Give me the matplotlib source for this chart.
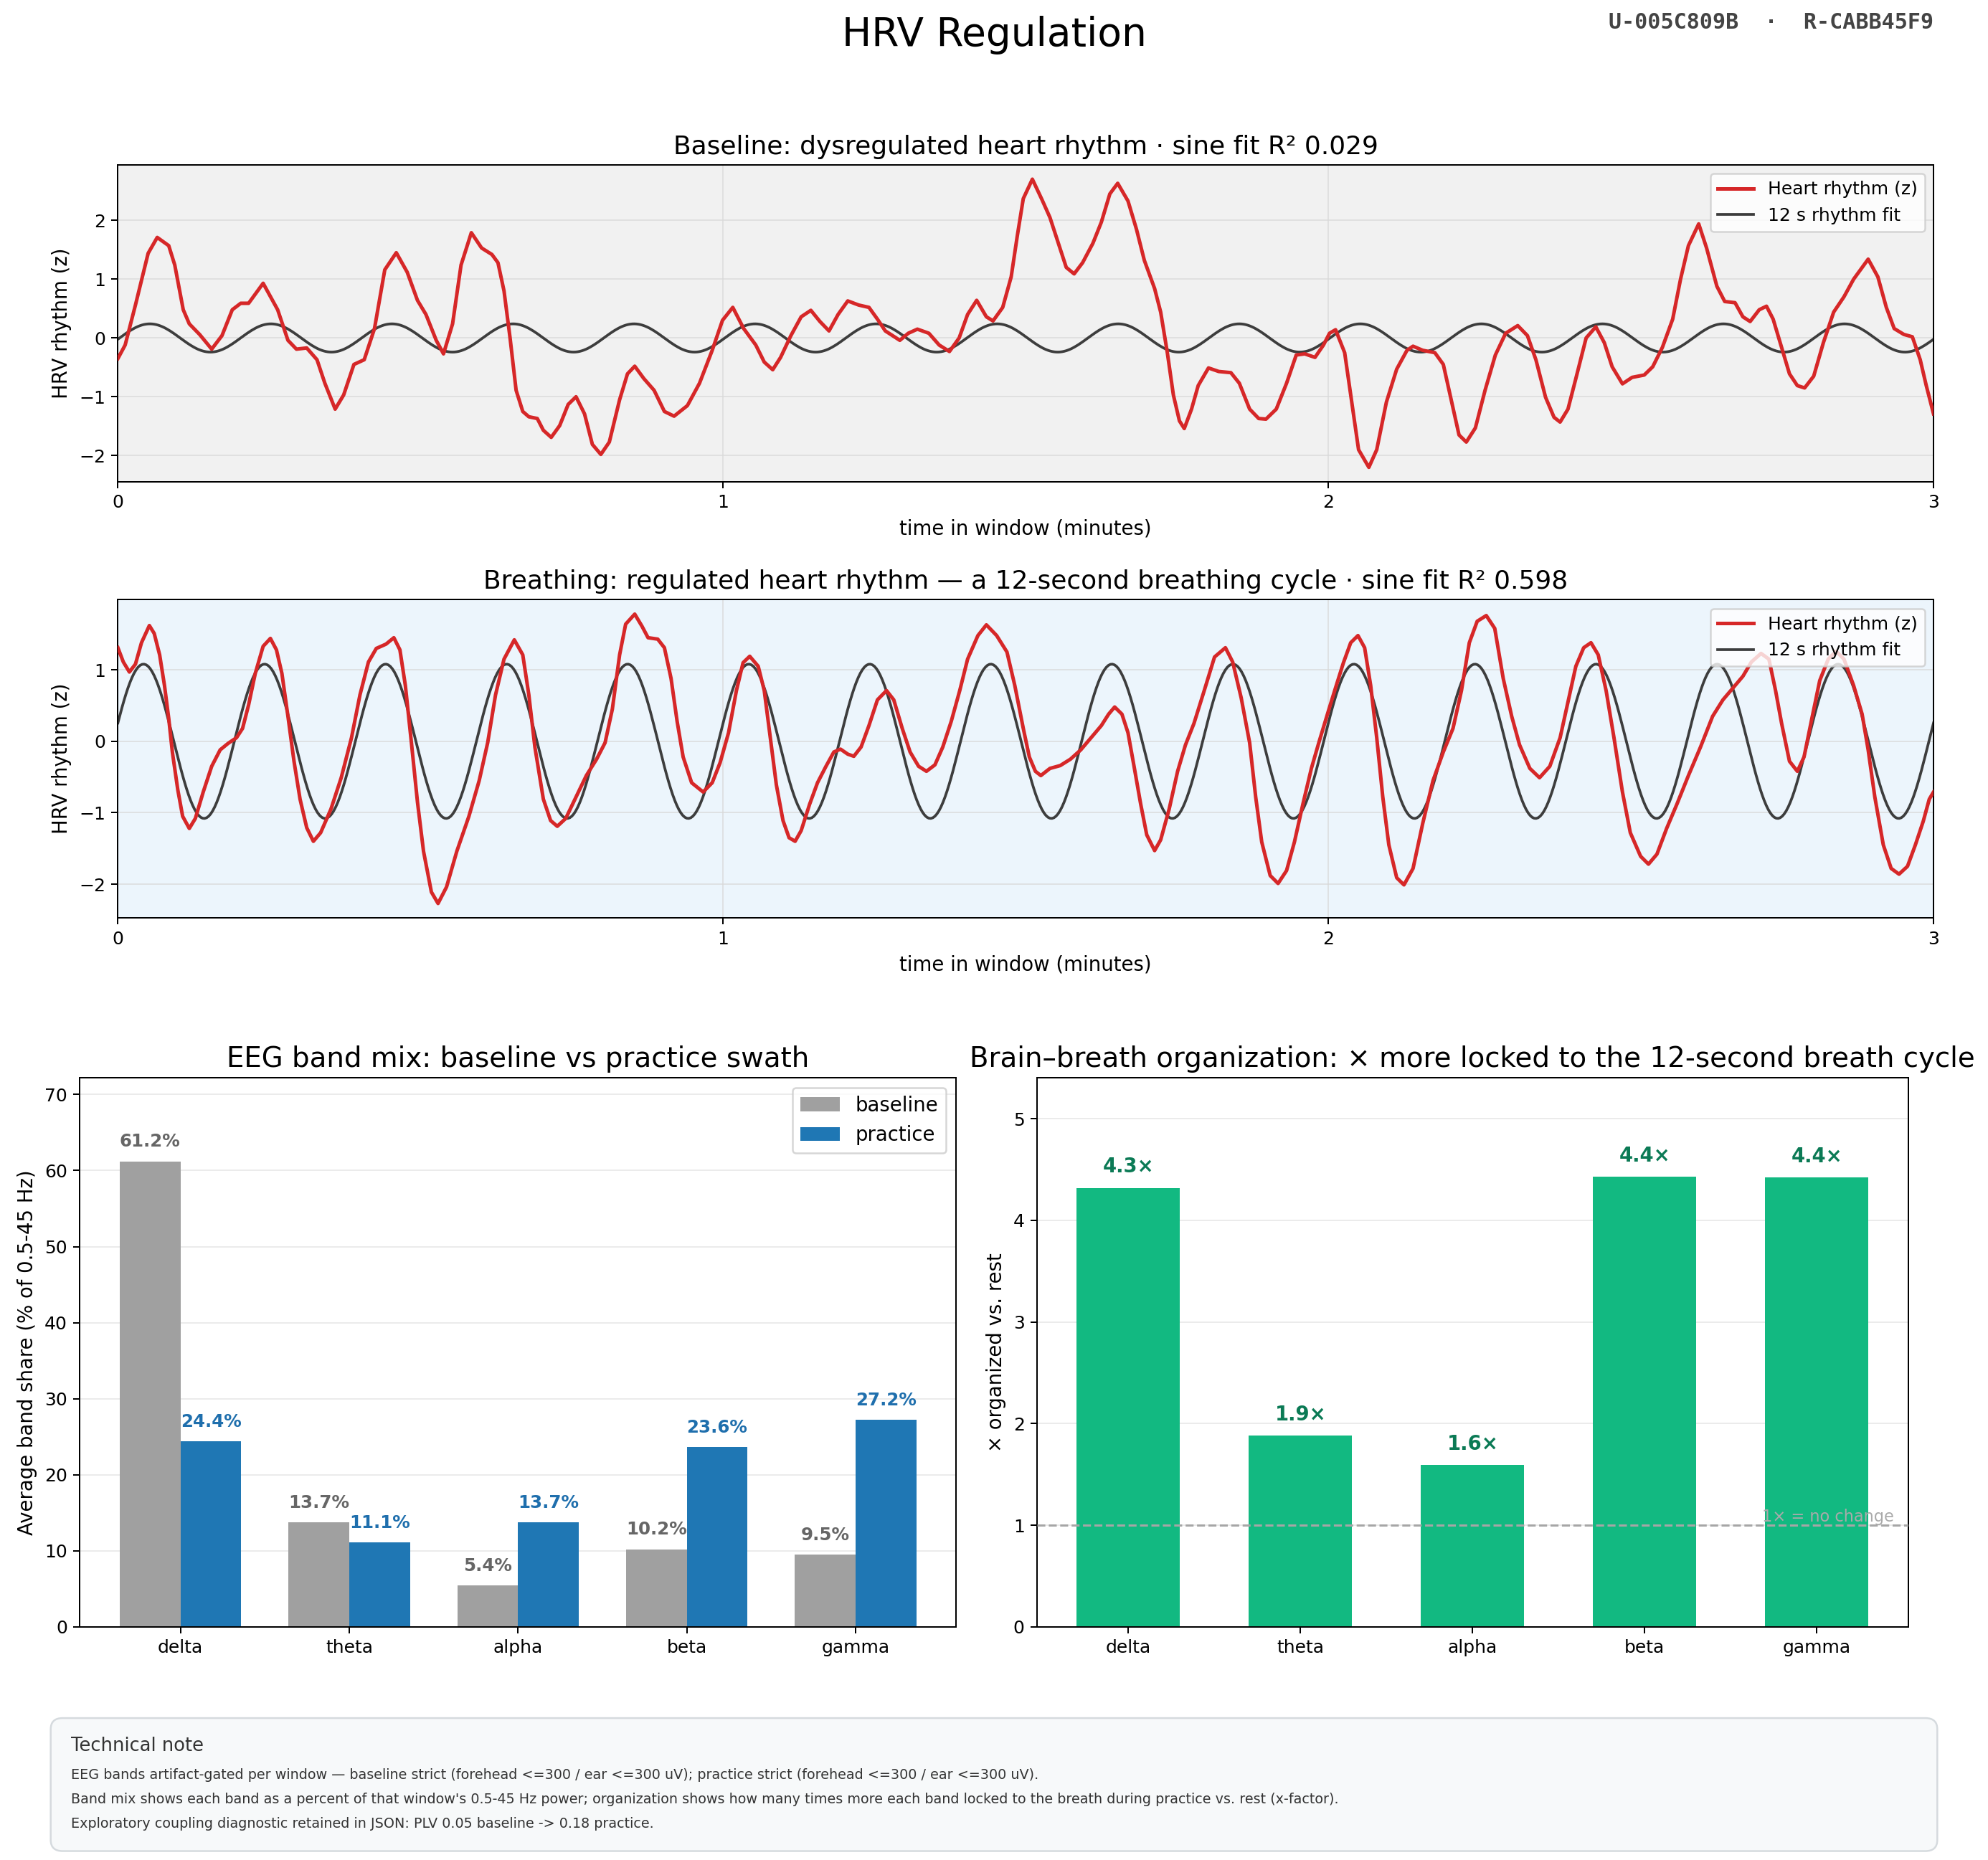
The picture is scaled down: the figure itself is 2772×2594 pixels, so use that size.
import numpy as np
import matplotlib
matplotlib.use("Agg")
import matplotlib.pyplot as plt
from matplotlib.patches import FancyBboxPatch

# ---------------- data ----------------
# baseline heart rhythm (time in minutes, z)
baseline_pts = [
    (0.0, -0.35), (0.012, -0.12), (0.029, 0.56), (0.05, 1.44), (0.065, 1.71), (0.084, 1.57),
    (0.094, 1.24), (0.108, 0.48), (0.118, 0.24), (0.135, 0.06), (0.155, -0.19), (0.172, 0.04),
    (0.189, 0.48), (0.203, 0.59), (0.216, 0.59), (0.24, 0.93), (0.264, 0.48), (0.281, -0.04),
    (0.295, -0.19), (0.312, -0.17), (0.329, -0.37), (0.342, -0.77), (0.359, -1.21), (0.373, -0.97),
    (0.39, -0.45), (0.407, -0.37), (0.424, 0.16), (0.441, 1.16), (0.46, 1.45), (0.478, 1.12),
    (0.495, 0.64), (0.509, 0.40), (0.526, -0.04), (0.538, -0.27), (0.553, 0.24), (0.567, 1.24),
    (0.584, 1.79), (0.601, 1.53), (0.618, 1.42), (0.628, 1.28), (0.638, 0.80), (0.648, 0.0),
    (0.658, -0.89), (0.669, -1.25), (0.679, -1.34), (0.693, -1.37), (0.703, -1.57), (0.716, -1.69),
    (0.73, -1.49), (0.744, -1.13), (0.757, -1.0), (0.771, -1.29), (0.784, -1.81), (0.798, -1.98),
    (0.812, -1.77), (0.829, -1.05), (0.842, -0.61), (0.854, -0.48), (0.869, -0.69), (0.886, -0.89),
    (0.903, -1.25), (0.919, -1.33), (0.941, -1.15), (0.961, -0.77), (0.982, -0.21), (0.999, 0.30),
    (1.016, 0.52), (1.034, 0.16), (1.054, -0.12), (1.068, -0.41), (1.082, -0.54), (1.095, -0.33),
    (1.112, 0.04), (1.129, 0.36), (1.145, 0.47), (1.16, 0.28), (1.175, 0.12), (1.19, 0.40),
    (1.206, 0.63), (1.224, 0.56), (1.241, 0.52), (1.255, 0.32), (1.268, 0.12), (1.292, -0.04),
    (1.306, 0.08), (1.321, 0.15), (1.34, 0.08), (1.357, -0.12), (1.374, -0.23), (1.39, 0.0),
    (1.404, 0.40), (1.419, 0.64), (1.435, 0.36), (1.446, 0.29), (1.462, 0.52), (1.476, 1.04),
    (1.486, 1.73), (1.496, 2.37), (1.511, 2.70), (1.527, 2.35), (1.54, 2.05), (1.554, 1.61),
    (1.567, 1.20), (1.58, 1.09), (1.594, 1.28), (1.611, 1.61), (1.625, 1.97), (1.639, 2.45),
    (1.652, 2.63), (1.669, 2.33), (1.683, 1.85), (1.696, 1.32), (1.713, 0.84), (1.723, 0.44),
    (1.734, -0.25), (1.744, -0.97), (1.754, -1.41), (1.762, -1.54), (1.774, -1.21), (1.785, -0.81),
    (1.802, -0.51), (1.819, -0.57), (1.839, -0.59), (1.853, -0.77), (1.87, -1.21), (1.885, -1.37),
    (1.897, -1.38), (1.914, -1.21), (1.931, -0.77), (1.947, -0.29), (1.961, -0.27), (1.978, -0.33),
    (1.992, -0.12), (2.002, 0.08), (2.012, 0.14), (2.027, -0.25), (2.037, -0.97), (2.05, -1.90),
    (2.067, -2.20), (2.08, -1.90), (2.096, -1.09), (2.113, -0.53), (2.13, -0.21), (2.14, -0.14),
    (2.156, -0.21), (2.176, -0.25), (2.19, -0.45), (2.203, -1.05), (2.216, -1.65), (2.228, -1.77),
    (2.243, -1.53), (2.259, -0.89), (2.276, -0.29), (2.293, 0.08), (2.313, 0.21), (2.329, 0.04),
    (2.343, -0.37), (2.359, -1.01), (2.373, -1.35), (2.383, -1.43), (2.396, -1.21), (2.409, -0.69),
    (2.426, 0.0), (2.442, 0.19), (2.456, -0.08), (2.469, -0.49), (2.486, -0.78), (2.502, -0.67),
    (2.522, -0.63), (2.536, -0.49), (2.552, -0.16), (2.569, 0.32), (2.582, 1.0), (2.595, 1.57),
    (2.612, 1.94), (2.625, 1.53), (2.642, 0.88), (2.655, 0.62), (2.672, 0.60), (2.685, 0.36),
    (2.697, 0.28), (2.712, 0.48), (2.724, 0.54), (2.735, 0.32), (2.749, -0.16), (2.762, -0.61),
    (2.775, -0.81), (2.787, -0.85), (2.802, -0.65), (2.818, -0.08), (2.835, 0.44), (2.852, 0.70),
    (2.868, 1.0), (2.892, 1.34), (2.908, 1.04), (2.922, 0.52), (2.935, 0.16), (2.951, 0.06),
    (2.965, 0.02), (2.978, -0.37), (2.988, -0.81), (3.0, -1.29),
]

# breathing heart rhythm (time in minutes, z)
breathing_pts = [
    (0.0, 1.31), (0.009, 1.11), (0.019, 0.97), (0.029, 1.08), (0.039, 1.38), (0.052, 1.62),
    (0.06, 1.51), (0.069, 1.21), (0.077, 0.78), (0.084, 0.32), (0.09, -0.15), (0.099, -0.68),
    (0.107, -1.05), (0.118, -1.22), (0.128, -1.08), (0.141, -0.71), (0.155, -0.35), (0.169, -0.12),
    (0.182, -0.03), (0.196, 0.05), (0.206, 0.18), (0.216, 0.51), (0.227, 0.95), (0.24, 1.33),
    (0.252, 1.44), (0.262, 1.28), (0.271, 0.95), (0.281, 0.35), (0.291, -0.28), (0.301, -0.81),
    (0.312, -1.21), (0.323, -1.40), (0.335, -1.28), (0.352, -0.95), (0.369, -0.51), (0.386, 0.05),
    (0.4, 0.65), (0.414, 1.11), (0.427, 1.30), (0.443, 1.36), (0.456, 1.45), (0.466, 1.28),
    (0.475, 0.78), (0.485, -0.02), (0.495, -0.85), (0.505, -1.54), (0.518, -2.11), (0.529, -2.27),
    (0.543, -2.04), (0.56, -1.54), (0.58, -1.05), (0.597, -0.55), (0.611, -0.02), (0.624, 0.65),
    (0.638, 1.15), (0.655, 1.42), (0.669, 1.21), (0.679, 0.65), (0.689, -0.08), (0.703, -0.81),
    (0.715, -1.11), (0.726, -1.19), (0.74, -1.08), (0.757, -0.78), (0.774, -0.48), (0.791, -0.25),
    (0.805, -0.02), (0.817, 0.45), (0.829, 1.21), (0.839, 1.64), (0.854, 1.78), (0.866, 1.61),
    (0.876, 1.45), (0.892, 1.43), (0.903, 1.31), (0.914, 0.88), (0.924, 0.28), (0.934, -0.22),
    (0.948, -0.58), (0.967, -0.71), (0.982, -0.58), (0.995, -0.30), (1.009, 0.12), (1.022, 0.71),
    (1.033, 1.10), (1.044, 1.19), (1.058, 1.05), (1.068, 0.71), (1.078, 0.05), (1.088, -0.61),
    (1.099, -1.11), (1.109, -1.35), (1.119, -1.40), (1.129, -1.25), (1.143, -0.88), (1.156, -0.58),
    (1.17, -0.35), (1.183, -0.15), (1.194, -0.11), (1.206, -0.18), (1.216, -0.21), (1.228, -0.08),
    (1.241, 0.22), (1.255, 0.58), (1.27, 0.71), (1.282, 0.58), (1.296, 0.18), (1.309, -0.15),
    (1.323, -0.35), (1.336, -0.42), (1.35, -0.33), (1.363, -0.08), (1.377, 0.28), (1.391, 0.71),
    (1.404, 1.15), (1.421, 1.48), (1.435, 1.63), (1.452, 1.48), (1.469, 1.25), (1.482, 0.78),
    (1.496, 0.18), (1.506, -0.22), (1.516, -0.42), (1.525, -0.48), (1.54, -0.38), (1.557, -0.34),
    (1.574, -0.25), (1.591, -0.12), (1.608, 0.05), (1.625, 0.22), (1.637, 0.38), (1.647, 0.48),
    (1.659, 0.38), (1.669, 0.12), (1.679, -0.35), (1.69, -0.88), (1.70, -1.31), (1.713, -1.53),
    (1.723, -1.38), (1.737, -0.95), (1.751, -0.42), (1.764, -0.05), (1.778, 0.25), (1.795, 0.71),
    (1.812, 1.18), (1.83, 1.31), (1.842, 1.11), (1.856, 0.61), (1.87, -0.02), (1.88, -0.78),
    (1.89, -1.41), (1.904, -1.88), (1.917, -1.99), (1.931, -1.81), (1.944, -1.41), (1.958, -0.88),
    (1.972, -0.38), (1.985, 0.0), (2.0, 0.42), (2.012, 0.75), (2.025, 1.10), (2.037, 1.38),
    (2.049, 1.48), (2.06, 1.31), (2.07, 0.78), (2.08, 0.05), (2.09, -0.78), (2.1, -1.45),
    (2.113, -1.91), (2.125, -2.01), (2.14, -1.78), (2.156, -1.15), (2.173, -0.55), (2.19, -0.15),
    (2.206, 0.18), (2.22, 0.71), (2.233, 1.38), (2.246, 1.68), (2.261, 1.76), (2.275, 1.58),
    (2.289, 0.88), (2.303, 0.35), (2.316, -0.05), (2.333, -0.38), (2.349, -0.51), (2.366, -0.35),
    (2.383, 0.05), (2.396, 0.55), (2.409, 1.05), (2.422, 1.31), (2.434, 1.38), (2.446, 1.21),
    (2.459, 0.71), (2.472, 0.05), (2.486, -0.71), (2.499, -1.28), (2.516, -1.61), (2.529, -1.72),
    (2.543, -1.58), (2.559, -1.22), (2.576, -0.88), (2.595, -0.48), (2.615, -0.08), (2.635, 0.35),
    (2.652, 0.58), (2.669, 0.75), (2.685, 0.91), (2.699, 1.11), (2.715, 1.23), (2.728, 1.15),
    (2.739, 0.71), (2.749, 0.25), (2.762, -0.28), (2.775, -0.42), (2.786, -0.22), (2.799, 0.32),
    (2.812, 0.85), (2.826, 1.15), (2.839, 1.26), (2.852, 1.15), (2.868, 0.78), (2.882, 0.38),
    (2.892, -0.12), (2.903, -0.78), (2.917, -1.45), (2.93, -1.78), (2.943, -1.86), (2.957, -1.75),
    (2.97, -1.45), (2.983, -1.12), (2.993, -0.81), (3.0, -0.71),
]

# 12 s sine fit parameters (amplitude, phase in rad), period in minutes
fit_period = 12 / 60
fit_amp = [0.24, 1.08]
fit_phase = [-0.09, 0.24]
r2 = [0.029, 0.598]

bands = ["delta", "theta", "alpha", "beta", "gamma"]
share_baseline = [61.2, 13.7, 5.4, 10.2, 9.5]
share_practice = [24.4, 11.1, 13.7, 23.6, 27.2]
organization = [4.32, 1.88, 1.59, 4.43, 4.42]

note_lines = [
    "EEG bands artifact-gated per window \u2014 baseline strict (forehead <=300 / ear <=300 uV); practice strict (forehead <=300 / ear <=300 uV).",
    "Band mix shows each band as a percent of that window's 0.5-45 Hz power; organization shows how many times more each band locked to the breath during practice vs. rest (x-factor).",
    "Exploratory coupling diagnostic retained in JSON: PLV 0.05 baseline -> 0.18 practice.",
]

RED = "#d62728"
FIT = "#3d3d3d"

fig = plt.figure(figsize=(2772 / 180, 2594 / 180), dpi=180)

fig.text(0.5, 0.981, "HRV Regulation", ha="center", va="center", fontsize=22)
fig.text(0.9726, 0.988, "U-005C809B  \u00b7  R-CABB45F9", ha="right", va="center",
         fontsize=12, family="DejaVu Sans Mono", weight="bold", color="#444444")

# ---------------- HRV panels ----------------
titles = [
    "Baseline: dysregulated heart rhythm \u00b7 sine fit R\u00b2 %.3f" % r2[0],
    "Breathing: regulated heart rhythm \u2014 a 12-second breathing cycle \u00b7 sine fit R\u00b2 %.3f" % r2[1],
]
bgs = ["#f1f1f1", "#ecf5fc"]
rects = [[0.0593, 0.741, 0.9133, 0.1704], [0.0593, 0.5065, 0.9133, 0.1711]]
t_fit = np.linspace(0, 3, 901)

for i, pts in enumerate([baseline_pts, breathing_pts]):
    t, z = np.array(pts).T
    ax = fig.add_axes(rects[i])
    ax.set_facecolor(bgs[i])
    ax.plot(t, z, color=RED, lw=2.0, label="Heart rhythm (z)", zorder=3,
            solid_joinstyle="round")
    ax.plot(t_fit, fit_amp[i] * np.sin(2 * np.pi * t_fit / fit_period + fit_phase[i]),
            color=FIT, lw=1.5, label="12 s rhythm fit", zorder=2)
    ax.set_xlim(0, 3)
    ax.set_xticks([0, 1, 2, 3])
    ax.grid(True, color="#d9d9d9", lw=0.7, alpha=0.8)
    ax.set_axisbelow(True)
    ax.set_title(titles[i], fontsize=14.4)
    ax.set_xlabel("time in window (minutes)", fontsize=11)
    ax.set_ylabel("HRV rhythm (z)", fontsize=11)
    ax.legend(loc="upper right", fontsize=10)

# ---------------- EEG band mix ----------------
x = np.arange(len(bands))
w = 0.36
ax3 = fig.add_axes([0.0402, 0.1254, 0.4407, 0.2952])
ax3.bar(x - w / 2, share_baseline, w, color="#a0a0a0", label="baseline")
ax3.bar(x + w / 2, share_practice, w, color="#1f77b4", label="practice")
top3 = max(share_baseline + share_practice) * 1.18
ax3.set_ylim(0, top3)
for xi, v in zip(x - w / 2, share_baseline):
    ax3.text(xi, v + top3 * 0.02, "%.1f%%" % v, ha="center", va="bottom",
             fontsize=9.8, weight="bold", color="#666666")
for xi, v in zip(x + w / 2, share_practice):
    ax3.text(xi, v + top3 * 0.02, "%.1f%%" % v, ha="center", va="bottom",
             fontsize=9.8, weight="bold", color="#1f6fad")
ax3.set_xticks(x)
ax3.set_xticklabels(bands)
ax3.tick_params(labelsize=10)
ax3.set_ylabel("Average band share (% of 0.5-45 Hz)", fontsize=11)
ax3.set_title("EEG band mix: baseline vs practice swath", fontsize=15.5)
ax3.grid(axis="y", color="#ebebeb", lw=0.8)
ax3.set_axisbelow(True)
ax3.legend(loc="upper right", fontsize=11)

# ---------------- organization x-factor ----------------
ax4 = fig.add_axes([0.5217, 0.1254, 0.4381, 0.2952])
ax4.bar(x, organization, 0.6, color="#12b981")
top4 = max(organization) * 1.22
ax4.set_ylim(0, top4)
for xi, v in zip(x, organization):
    ax4.text(xi, v + top4 * 0.02, "%.1f\u00d7" % v, ha="center", va="bottom",
             fontsize=11, weight="bold", color="#0b7a55")
ax4.axhline(1.0, color="#a6a6a6", ls="--", lw=1.2, zorder=3)
ax4.text(4.45, 1.0, "1\u00d7 = no change", ha="right", va="bottom", fontsize=9,
         color="#aaaaaa", zorder=4)
ax4.set_xticks(x)
ax4.set_xticklabels(bands)
ax4.tick_params(labelsize=10)
ax4.set_ylabel("\u00d7 organized vs. rest", fontsize=11)
ax4.set_title("Brain\u2013breath organization: \u00d7 more locked to the 12-second breath cycle", fontsize=15.5)
ax4.grid(axis="y", color="#ebebeb", lw=0.8)
ax4.set_axisbelow(True)

# ---------------- technical note ----------------
box = FancyBboxPatch((0.0255, 0.0048), 0.949, 0.0715, transform=fig.transFigure,
                     boxstyle="round,pad=0,rounding_size=0.006",
                     facecolor="#f7f9fa", edgecolor="#d5dade", lw=1.0)
fig.patches.append(box)
fig.text(0.0357, 0.0613, "Technical note", fontsize=10.3, color="#333333", va="center")
for k, line in enumerate(note_lines):
    fig.text(0.0357, 0.0456 - k * 0.0130, line, fontsize=7.65, color="#333333", va="center")

fig.savefig("out.png", dpi=180)
